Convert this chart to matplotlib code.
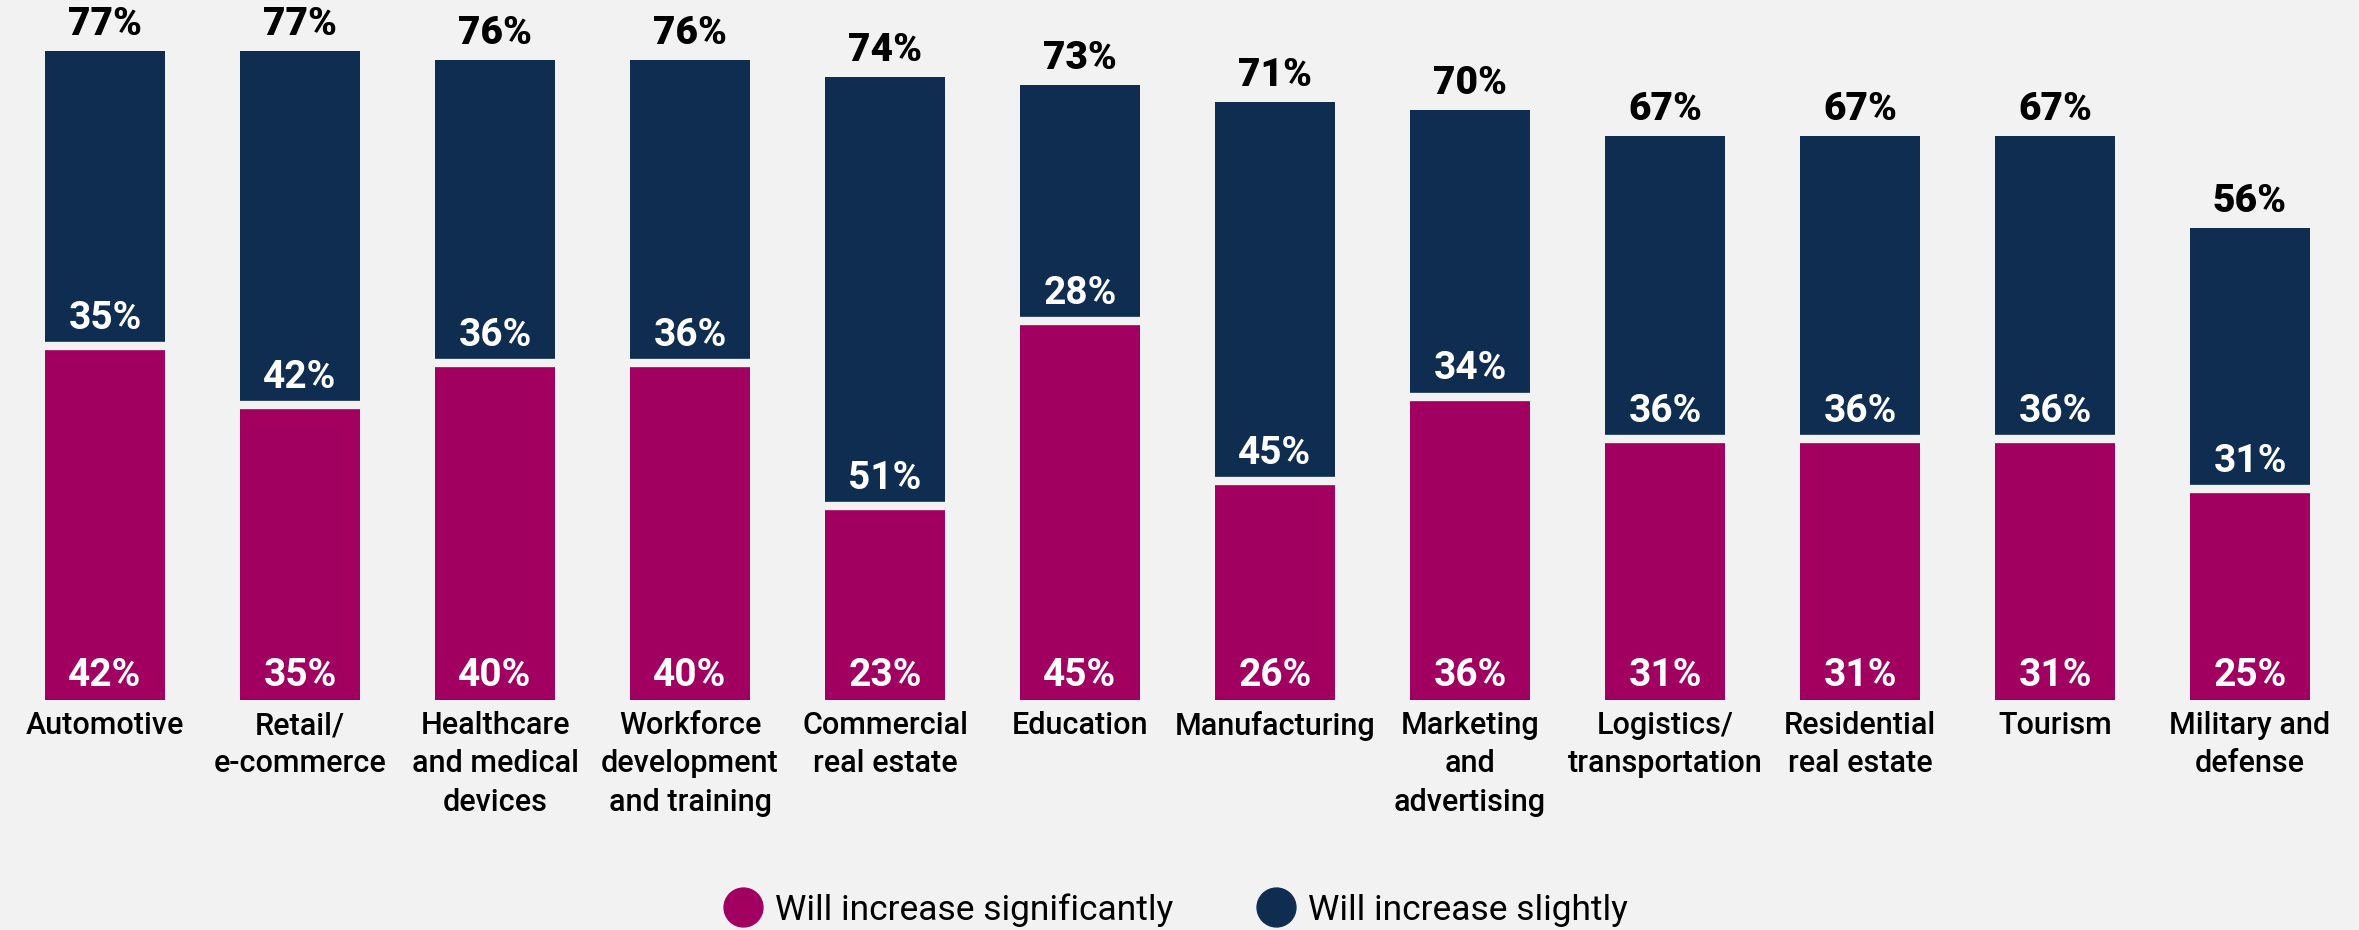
import matplotlib
matplotlib.use("Agg")
import matplotlib.pyplot as plt
from matplotlib.lines import Line2D
from matplotlib import font_manager

# ----------------------------

categories = [
    "Automotive",
    "Retail/\ne-commerce",
    "Healthcare\nand medical\ndevices",
    "Workforce\ndevelopment\nand training",
    "Commercial\nreal estate",
    "Education",
    "Manufacturing",
    "Marketing\nand\nadvertising",
    "Logistics/\ntransportation",
    "Residential\nreal estate",
    "Tourism",
    "Military and\ndefense",
]

significantly = [42, 35, 40, 40, 23, 45, 26, 36, 31, 31, 31, 25]
slightly = [35, 42, 36, 36, 51, 28, 45, 34, 36, 36, 36, 31]
totals = [77, 77, 76, 76, 74, 73, 71, 70, 67, 67, 67, 56]

series_names = ["Will increase significantly", "Will increase slightly"]

# ----------------------------

BG = "#F2F2F2"
MAGENTA = "#A10060"
NAVY = "#0F2D50"

names = {f.name for f in font_manager.fontManager.ttflist}
FONT = "Roboto" if "Roboto" in names else "Liberation Sans"
plt.rcParams["font.family"] = [FONT, "DejaVu Sans"]

W, H, DPI = 2359, 930, 100
fig = plt.figure(figsize=(W / DPI, H / DPI), dpi=DPI, facecolor=BG)

# axes placed in pixels: 195 px per category, bar base 230 px above the bottom
ax = fig.add_axes([7.5 / W, 230 / H, 12 * 195 / W, 674 / H])
ax.set_facecolor(BG)
ax.set_xlim(-0.5, 11.5)
ax.set_ylim(0, 80)

x = list(range(len(categories)))
bw = 0.62

ax.bar(x, significantly, width=bw, color=MAGENTA, zorder=2)
ax.bar(x, slightly, width=bw, bottom=significantly, color=NAVY, zorder=2)

# thin gap between the two stacked segments
ax.hlines(significantly, [i - bw / 2 for i in x], [i + bw / 2 for i in x],
          colors=BG, linewidth=6, zorder=3)

LBL = 28
for i in x:
    ax.annotate(f"{significantly[i]}%", (i, 0), xytext=(0, 18),
                textcoords="offset points", ha="center", va="center",
                color="white", fontsize=LBL, fontweight="bold", zorder=4)
    ax.annotate(f"{slightly[i]}%", (i, significantly[i]), xytext=(0, 20),
                textcoords="offset points", ha="center", va="center",
                color="white", fontsize=LBL, fontweight="bold", zorder=4)
    ax.annotate(f"{totals[i]}%", (i, totals[i]), xytext=(0, 19),
                textcoords="offset points", ha="center", va="center",
                color="black", fontsize=LBL, fontweight="black",
                annotation_clip=False)

ax.set_xticks(x)
ax.set_xticklabels(categories, fontsize=22, fontweight="medium", linespacing=1.4)
ax.tick_params(axis="x", length=0, pad=8)
ax.set_yticks([])
for s in ax.spines.values():
    s.set_visible(False)

handles = [
    Line2D([], [], marker="o", linestyle="none", markersize=28,
           markerfacecolor=MAGENTA, markeredgecolor=MAGENTA),
    Line2D([], [], marker="o", linestyle="none", markersize=28,
           markerfacecolor=NAVY, markeredgecolor=NAVY),
]
fig.legend(handles, series_names, loc="center", bbox_to_anchor=(1175 / W, 1 - 910 / H),
           ncol=2, frameon=False, fontsize=25.5, handletextpad=0.3,
           columnspacing=2.3, handlelength=1.2)

fig.savefig("out.png", dpi=DPI, facecolor=BG)
